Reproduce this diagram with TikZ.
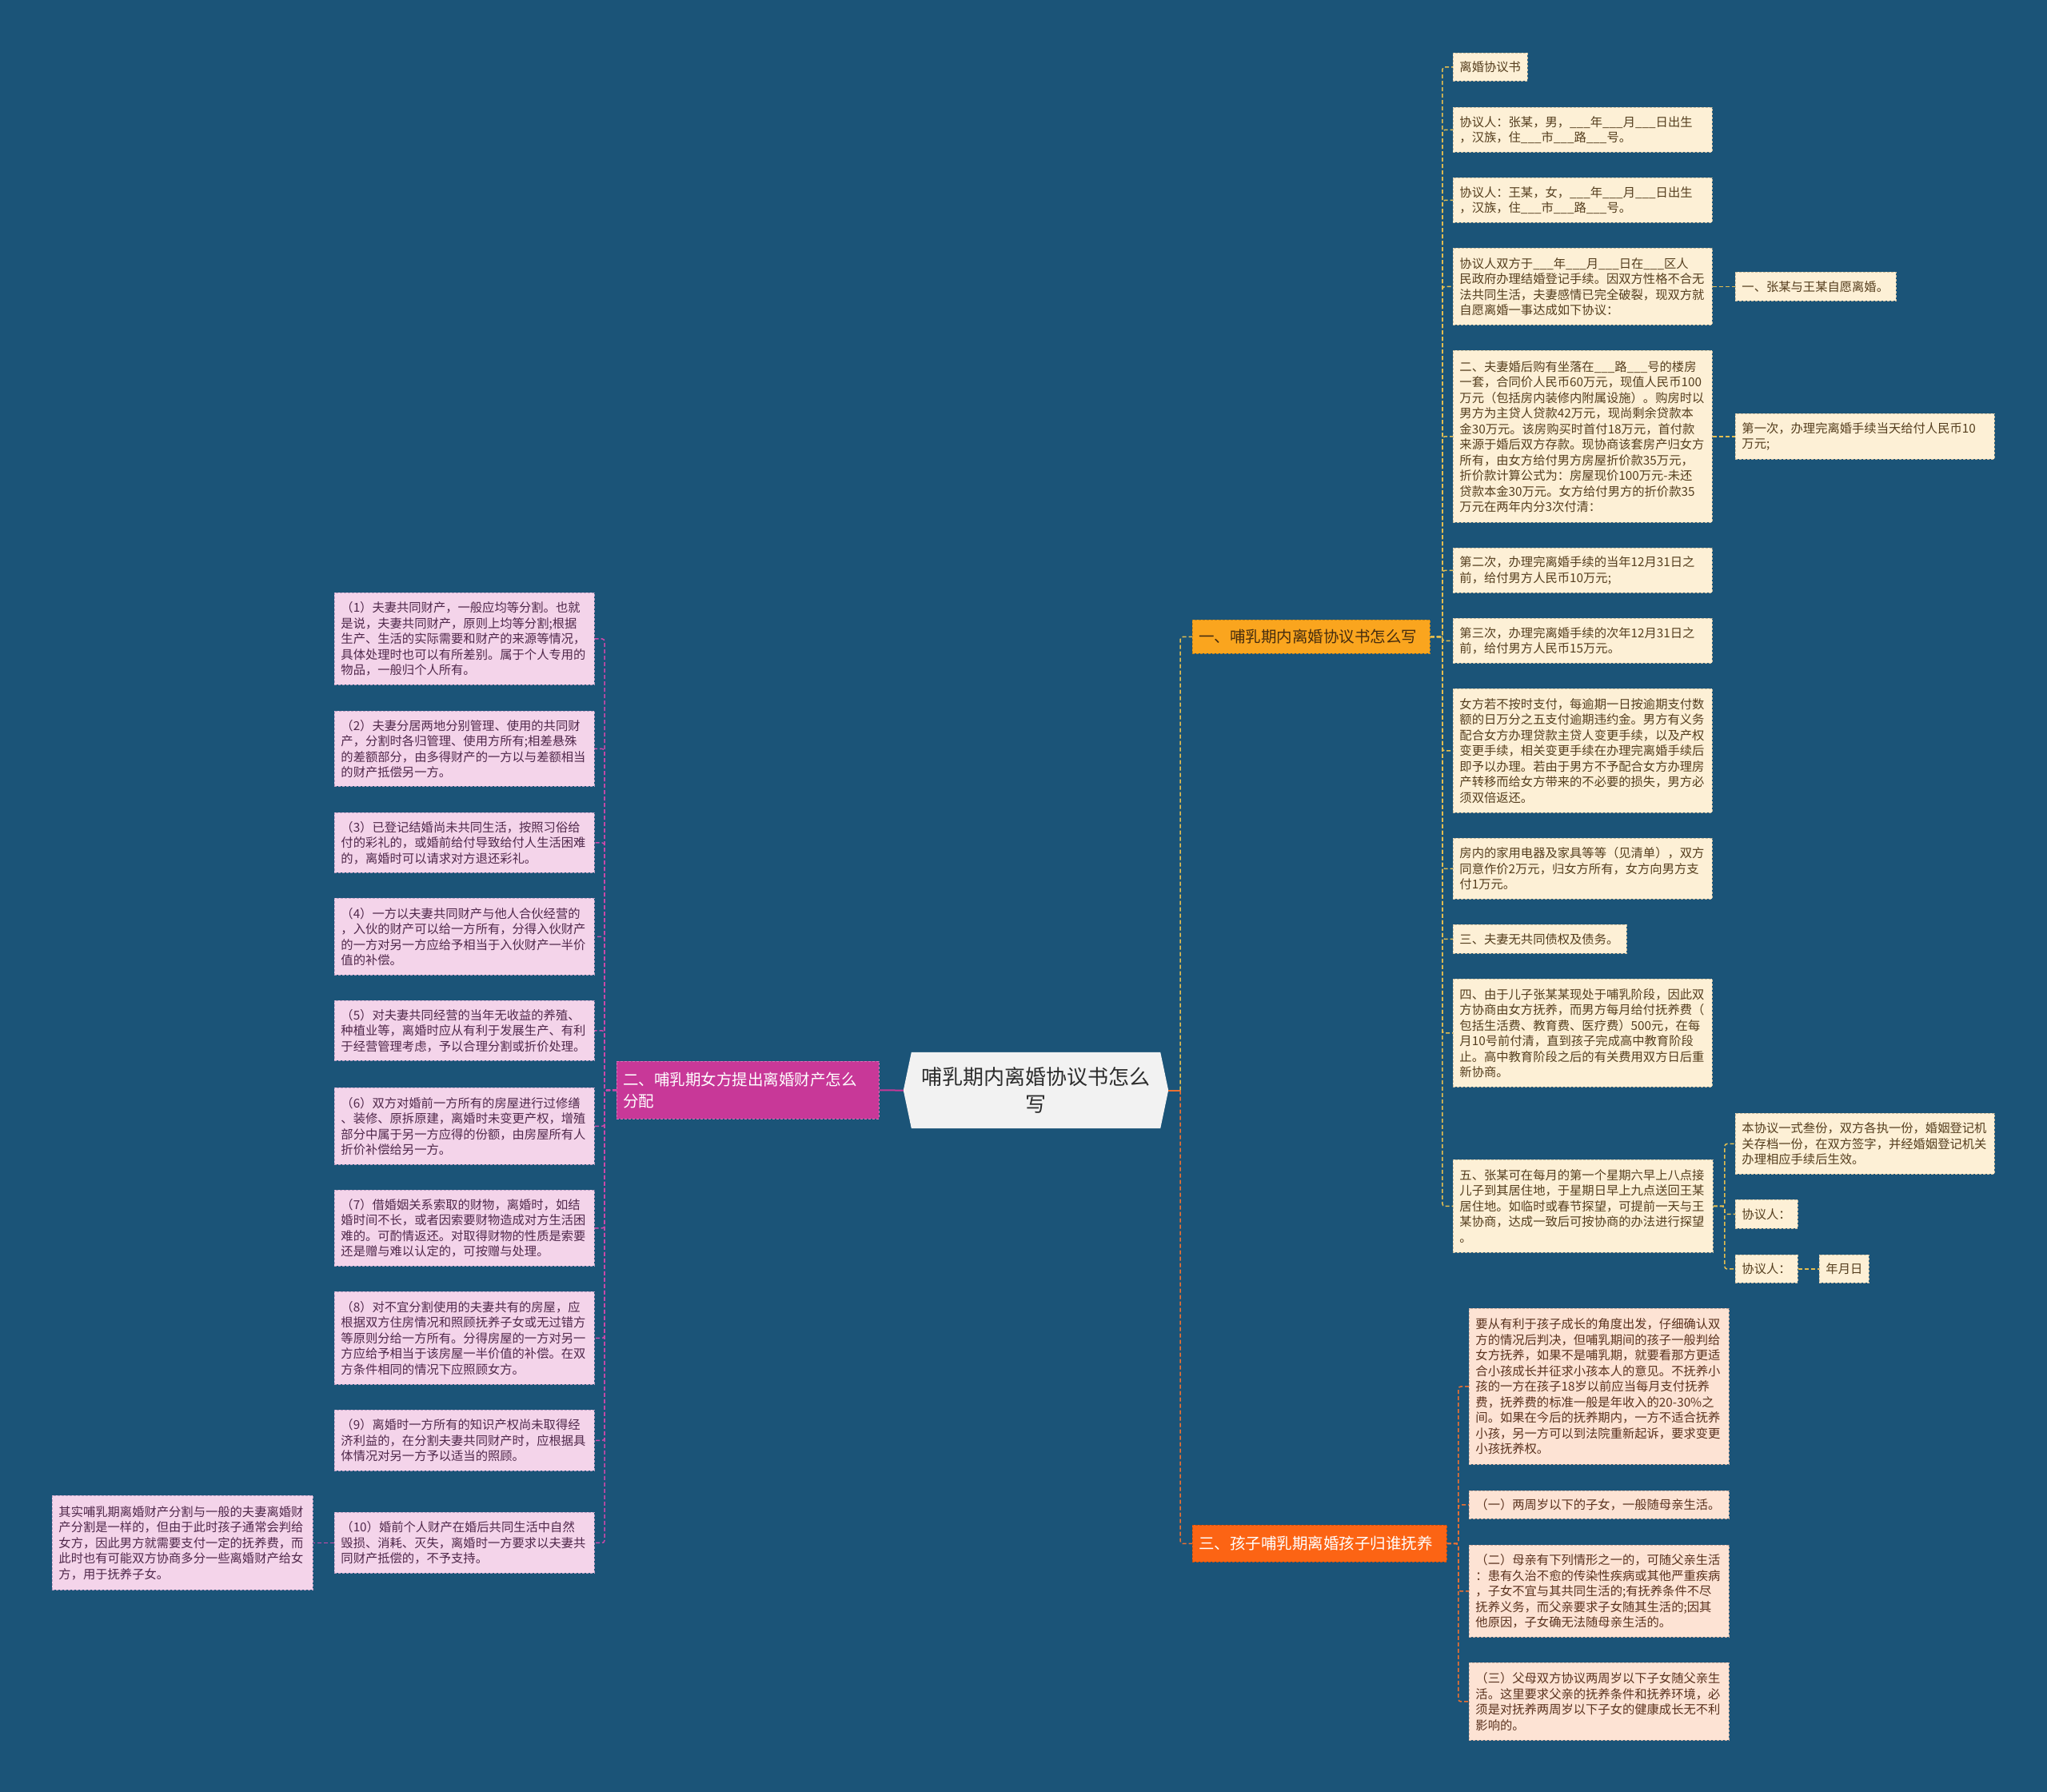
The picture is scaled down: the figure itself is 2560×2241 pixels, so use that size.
\documentclass[tikz,border=0pt]{standalone}
\usepackage{fontspec}
\setmainfont{Noto Sans CJK SC}
\usetikzlibrary{backgrounds}
\definecolor{bgc}{RGB}{27,84,120}
\definecolor{yfill}{RGB}{253,240,214}
\definecolor{yline}{RGB}{205,190,160}
\definecolor{ytext}{RGB}{85,62,30}
\definecolor{pfill}{RGB}{244,212,234}
\definecolor{pline}{RGB}{190,160,195}
\definecolor{ptext}{RGB}{80,40,75}
\definecolor{sfill}{RGB}{253,227,212}
\definecolor{sline}{RGB}{210,175,160}
\definecolor{stext}{RGB}{90,50,30}
\definecolor{oyfill}{RGB}{250,165,30}
\definecolor{oytext}{RGB}{70,45,15}
\definecolor{mfill}{RGB}{200,56,152}
\definecolor{rfill}{RGB}{252,100,20}
\definecolor{rootfill}{RGB}{242,242,242}
\definecolor{roottext}{RGB}{45,45,45}
\definecolor{cyl}{RGB}{228,190,80}
\definecolor{cml}{RGB}{205,72,170}
\definecolor{col}{RGB}{236,112,50}
\newcommand\mybox[7]{%
  \pgfmathsetmacro\myboxw{#5-#3}%
  \pgfmathsetmacro\myboxh{#6-#4}%
  \pgfmathsetmacro\myboxt{#5-#3-16}%
  \node[#1, anchor=north west, minimum width=\myboxw pt, minimum height=\myboxh pt, text width=\myboxt pt] (#2) at (#3,#4) {#7};%
}
\tikzset{
  every node/.style={font=\fontsize{15.3}{19.5}\selectfont},
  basebox/.style={draw, dash pattern=on 3pt off 2pt, line width=0.9pt, inner xsep=8pt, inner ysep=1pt, align=left},
  ybox/.style={basebox, fill=yfill, draw=yline, text=ytext},
  pbox/.style={basebox, fill=pfill, draw=pline, text=ptext},
  sbox/.style={basebox, fill=sfill, draw=sline, text=stext},
  oybox/.style={basebox, fill=oyfill, draw=oyfill!80!black, text=oytext, font=\fontsize{19.5}{27}\selectfont},
  mbox/.style={basebox, fill=mfill, draw=mfill!70!white, text=white, font=\fontsize{19.5}{27}\selectfont},
  rbox/.style={basebox, fill=rfill, draw=rfill!80!black, text=white, font=\fontsize{19.5}{27}\selectfont},
  rootbox/.style={minimum width=311pt, minimum height=95pt, inner sep=0pt, align=center, text=roottext, font=\fontsize{26}{34}\selectfont},
  ylk/.style={draw=cyl, line width=1.5pt, dash pattern=on 5pt off 3pt, rounded corners=3pt},
  mlk/.style={draw=cml, line width=1.5pt, dash pattern=on 5pt off 3pt, rounded corners=3pt},
  olk/.style={draw=col, line width=1.5pt, dash pattern=on 5pt off 3pt, rounded corners=3pt},
}
\begin{document}
\begin{tikzpicture}[x=1pt,y=-1pt]
\useasboundingbox (0,0) rectangle (2560,2241);
% root
\node[rootbox] (root) at (1295.5,1363.5) {哺乳期内离婚协议书怎么\\写};
\begin{scope}[on background layer]
\fill[bgc] (0,0) rectangle (2560,2241);
\fill[rootfill] ([xshift=-10pt]root.west) -- (root.north west) -- (root.north east) -- ([xshift=10pt]root.east) -- (root.south east) -- (root.south west) -- cycle;
\end{scope}
\coordinate (rootR) at ([xshift=10pt]root.east);
\coordinate (rootL) at ([xshift=-10pt]root.west);
% branches
\mybox{oybox}{b1}{1491}{775}{1788}{817}{一、哺乳期内离婚协议书怎么写}
\mybox{mbox}{b2}{771}{1327}{1099}{1399}{二、哺乳期女方提出离婚财产怎么\\分配}
\mybox{rbox}{b3}{1491}{1907}{1809}{1953}{三、孩子哺乳期离婚孩子归谁抚养}
% right column
\mybox{ybox}{a1}{1817}{66}{1910}{101}{离婚协议书}
\mybox{ybox}{a2}{1817}{134}{2141}{190}{协议人：张某，男，\_\_\_年\_\_\_月\_\_\_日出生\\，汉族，住\_\_\_市\_\_\_路\_\_\_号。}
\mybox{ybox}{a3}{1817}{222}{2141}{278}{协议人：王某，女，\_\_\_年\_\_\_月\_\_\_日出生\\，汉族，住\_\_\_市\_\_\_路\_\_\_号。}
\mybox{ybox}{a4}{1817}{310}{2141}{406}{协议人双方于\_\_\_年\_\_\_月\_\_\_日在\_\_\_区人\\民政府办理结婚登记手续。因双方性格不合无\\法共同生活，夫妻感情已完全破裂，现双方就\\自愿离婚一事达成如下协议：}
\mybox{ybox}{a5}{2170}{340}{2371}{376}{一、张某与王某自愿离婚。}
\mybox{ybox}{a6}{1817}{438}{2141}{653}{二、夫妻婚后购有坐落在\_\_\_路\_\_\_号的楼房\\一套，合同价人民币60万元，现值人民币100\\万元（包括房内装修内附属设施）。购房时以\\男方为主贷人贷款42万元，现尚剩余贷款本\\金30万元。该房购买时首付18万元，首付款\\来源于婚后双方存款。现协商该套房产归女方\\所有，由女方给付男方房屋折价款35万元，\\折价款计算公式为：房屋现价100万元-未还\\贷款本金30万元。女方给付男方的折价款35\\万元在两年内分3次付清：}
\mybox{ybox}{a7}{2170}{517}{2494}{574}{第一次，办理完离婚手续当天给付人民币10\\万元;}
\mybox{ybox}{a8}{1817}{685}{2141}{741}{第二次，办理完离婚手续的当年12月31日之\\前，给付男方人民币10万元;}
\mybox{ybox}{a9}{1817}{773}{2141}{829}{第三次，办理完离婚手续的次年12月31日之\\前，给付男方人民币15万元。}
\mybox{ybox}{a10}{1817}{861}{2141}{1016}{女方若不按时支付，每逾期一日按逾期支付数\\额的日万分之五支付逾期违约金。男方有义务\\配合女方办理贷款主贷人变更手续，以及产权\\变更手续，相关变更手续在办理完离婚手续后\\即予以办理。若由于男方不予配合女方办理房\\产转移而给女方带来的不必要的损失，男方必\\须双倍返还。}
\mybox{ybox}{a11}{1817}{1048}{2141}{1124}{房内的家用电器及家具等等（见清单），双方\\同意作价2万元，归女方所有，女方向男方支\\付1万元。}
\mybox{ybox}{a12}{1817}{1156}{2034}{1192}{三、夫妻无共同债权及债务。}
\mybox{ybox}{a13}{1817}{1224}{2141}{1359}{四、由于儿子张某某现处于哺乳阶段，因此双\\方协商由女方抚养，而男方每月给付抚养费（\\包括生活费、教育费、医疗费）500元，在每\\月10号前付清，直到孩子完成高中教育阶段\\止。高中教育阶段之后的有关费用双方日后重\\新协商。}
\mybox{ybox}{a14}{1817}{1450}{2142}{1566}{五、张某可在每月的第一个星期六早上八点接\\儿子到其居住地，于星期日早上九点送回王某\\居住地。如临时或春节探望，可提前一天与王\\某协商，达成一致后可按协商的办法进行探望\\。}
\mybox{ybox}{a15}{2170}{1392}{2494}{1468}{本协议一式叁份，双方各执一份，婚姻登记机\\关存档一份，在双方签字，并经婚姻登记机关\\办理相应手续后生效。}
\mybox{ybox}{a16}{2170}{1500}{2248}{1536}{协议人：}
\mybox{ybox}{a17}{2170}{1569}{2248}{1604}{协议人：}
\mybox{ybox}{a18}{2275}{1569}{2337}{1604}{年月日}
% bottom right
\mybox{sbox}{r1}{1837}{1636}{2162}{1831}{要从有利于孩子成长的角度出发，仔细确认双\\方的情况后判决，但哺乳期间的孩子一般判给\\女方抚养，如果不是哺乳期，就要看那方更适\\合小孩成长并征求小孩本人的意见。不抚养小\\孩的一方在孩子18岁以前应当每月支付抚养\\费，抚养费的标准一般是年收入的20-30\%之\\间。如果在今后的抚养期内，一方不适合抚养\\小孩，另一方可以到法院重新起诉，要求变更\\小孩抚养权。}
\mybox{sbox}{r2}{1837}{1864}{2162}{1899}{（一）两周岁以下的子女，一般随母亲生活。}
\mybox{sbox}{r3}{1837}{1932}{2162}{2047}{（二）母亲有下列情形之一的，可随父亲生活\\：患有久治不愈的传染性疾病或其他严重疾病\\，子女不宜与其共同生活的;有抚养条件不尽\\抚养义务，而父亲要求子女随其生活的;因其\\他原因，子女确无法随母亲生活的。}
\mybox{sbox}{r4}{1837}{2079}{2162}{2176}{（三）父母双方协议两周岁以下子女随父亲生\\活。这里要求父亲的抚养条件和抚养环境，必\\须是对抚养两周岁以下子女的健康成长无不利\\影响的。}
% left column
\mybox{pbox}{l1}{418}{741}{743}{856}{（1）夫妻共同财产，一般应均等分割。也就\\是说，夫妻共同财产，原则上均等分割;根据\\生产、生活的实际需要和财产的来源等情况，\\具体处理时也可以有所差别。属于个人专用的\\物品，一般归个人所有。}
\mybox{pbox}{l2}{418}{889}{743}{983}{（2）夫妻分居两地分别管理、使用的共同财\\产，分割时各归管理、使用方所有;相差悬殊\\的差额部分，由多得财产的一方以与差额相当\\的财产抵偿另一方。}
\mybox{pbox}{l3}{418}{1016}{743}{1091}{（3）已登记结婚尚未共同生活，按照习俗给\\付的彩礼的，或婚前给付导致给付人生活困难\\的，离婚时可以请求对方退还彩礼。}
\mybox{pbox}{l4}{418}{1123}{743}{1219}{（4）一方以夫妻共同财产与他人合伙经营的\\，入伙的财产可以给一方所有，分得入伙财产\\的一方对另一方应给予相当于入伙财产一半价\\值的补偿。}
\mybox{pbox}{l5}{418}{1251}{743}{1326}{（5）对夫妻共同经营的当年无收益的养殖、\\种植业等，离婚时应从有利于发展生产、有利\\于经营管理考虑，予以合理分割或折价处理。}
\mybox{pbox}{l6}{418}{1360}{743}{1456}{（6）双方对婚前一方所有的房屋进行过修缮\\、装修、原拆原建，离婚时未变更产权，增殖\\部分中属于另一方应得的份额，由房屋所有人\\折价补偿给另一方。}
\mybox{pbox}{l7}{418}{1488}{743}{1583}{（7）借婚姻关系索取的财物，离婚时，如结\\婚时间不长，或者因索要财物造成对方生活困\\难的。可酌情返还。对取得财物的性质是索要\\还是赠与难以认定的，可按赠与处理。}
\mybox{pbox}{l8}{418}{1615}{743}{1731}{（8）对不宜分割使用的夫妻共有的房屋，应\\根据双方住房情况和照顾抚养子女或无过错方\\等原则分给一方所有。分得房屋的一方对另一\\方应给予相当于该房屋一半价值的补偿。在双\\方条件相同的情况下应照顾女方。}
\mybox{pbox}{l9}{418}{1763}{743}{1839}{（9）离婚时一方所有的知识产权尚未取得经\\济利益的，在分割夫妻共同财产时，应根据具\\体情况对另一方予以适当的照顾。}
\mybox{pbox}{l10}{418}{1891}{743}{1967}{（10）婚前个人财产在婚后共同生活中自然\\毁损、消耗、灭失，离婚时一方要求以夫妻共\\同财产抵偿的，不予支持。}
\mybox{pbox}{fl}{65}{1870}{391}{1988}{其实哺乳期离婚财产分割与一般的夫妻离婚财\\产分割是一样的，但由于此时孩子通常会判给\\女方，因此男方就需要支付一定的抚养费，而\\此时也有可能双方协商多分一些离婚财产给女\\方，用于抚养子女。}
% connectors: root
\draw[draw=col, line width=2pt] (rootR) -- ++(15,0) coordinate (rt);
\draw[ylk] (rt) |- (b1.west);
\draw[olk] (rt) |- (b3.west);
\draw[draw=mfill, line width=2pt] (rootL) -- (b2.east);
% branch 1
\foreach \c in {a1,a2,a3,a4,a6,a8,a9,a10,a11,a12,a13,a14}
  \draw[ylk] (b1.east) -- ++(15,0) |- (\c.west);
\draw[ylk] (a4.east) -- (a5.west);
\draw[ylk] (a6.east) -- (a7.west);
\foreach \c in {a15,a16,a17}
  \draw[ylk] (a14.east) -- ++(14,0) |- (\c.west);
\draw[ylk] (a17.east) -- (a18.west);
% branch 2
\foreach \c in {l1,l2,l3,l4,l5,l6,l7,l8,l9,l10}
  \draw[mlk] (b2.west) -- ++(-15,0) |- (\c.east);
\draw[mlk] (l10.west) -- (fl.east);
% branch 3
\foreach \c in {r1,r2,r3,r4}
  \draw[olk] (b3.east) -- ++(14,0) |- (\c.west);
\end{tikzpicture}
\end{document}
